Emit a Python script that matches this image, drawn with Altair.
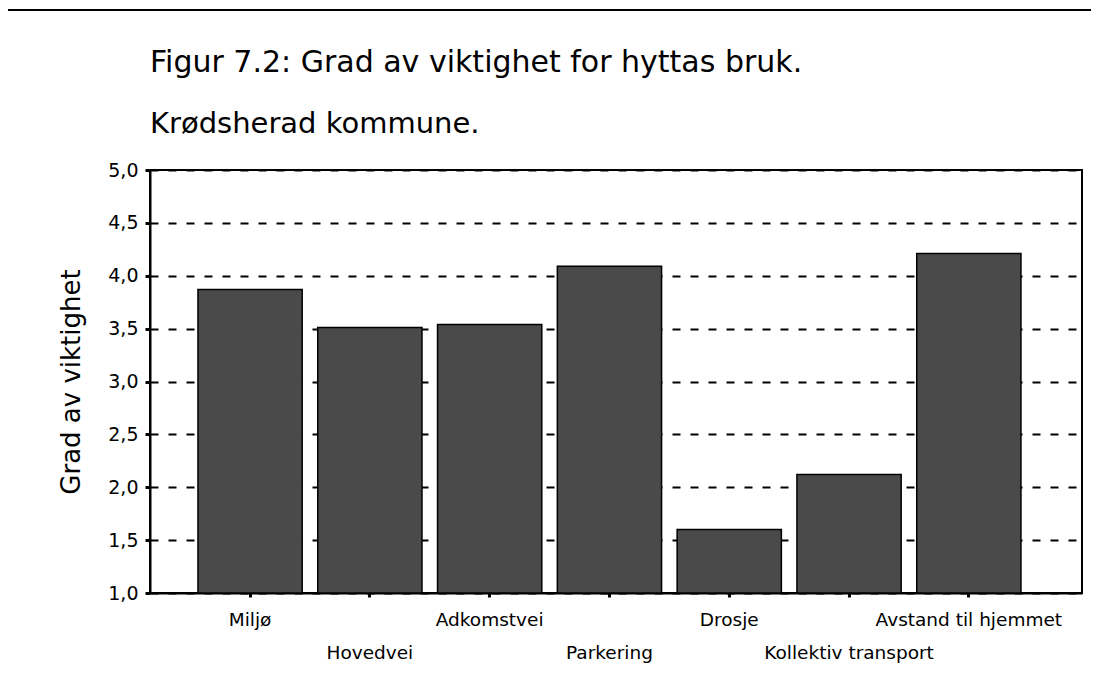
import json
import altair as alt
import pandas as pd

# ---- data ----
categories = ["Miljø", "Hovedvei", "Adkomstvei", "Parkering", "Drosje",
              "Kollektiv transport", "Avstand til hjemmet"]
values = [3.87, 3.51, 3.54, 4.09, 1.60, 2.12, 4.21]
y_ticks = [1.0, 1.5, 2.0, 2.5, 3.0, 3.5, 4.0, 4.5, 5.0]
lower_row = categories[1::2]

title_line1 = "Figur 7.2: Grad av viktighet for hyttas bruk."
title_line2 = "Krødsherad kommune."
y_title = "Grad av viktighet"

df = pd.DataFrame({"kategori": categories, "verdi": values})

W, H = 932, 423
FONT = "DejaVu Sans"

label_expr = ("indexof(" + json.dumps(lower_row, ensure_ascii=False) +
              ", datum.label) >= 0 ? ['', datum.label] : datum.label")

bars = alt.Chart(df).mark_bar(color="#4a4a4a", stroke="black", strokeWidth=1.5).encode(
    x=alt.X("kategori:N", sort=categories,
            scale=alt.Scale(paddingInner=0.13, paddingOuter=0.455, align=0.44),
            axis=alt.Axis(title=None, labelExpr=label_expr, labelAngle=0,
                          labelFont=FONT, labelFontSize=18.5, labelColor="black",
                          labelBaseline="top", labelLineHeight=33, labelPadding=13,
                          labelOverlap=False, labelLimit=400,
                          tickSize=4, tickWidth=3, tickColor="black",
                          domainColor="black", domainWidth=2, grid=False)),
    y=alt.Y("verdi:Q",
            scale=alt.Scale(domain=[1, 5], zero=False, nice=False),
            axis=alt.Axis(values=y_ticks,
                          labelExpr="replace(format(datum.value, '.1f'), '.', ',')",
                          labelFont=FONT, labelFontSize=19, labelColor="black",
                          labelPadding=7,
                          title=y_title, titleFont=FONT, titleFontSize=26,
                          titleFontWeight="normal", titleColor="black",
                          titleX=-79, titleY=H / 2, titleAngle=270,
                          titleBaseline="middle", titleAlign="center",
                          grid=True, gridColor="black", gridDash=[8, 10], gridWidth=2,
                          tickSize=5, tickWidth=3, tickColor="black",
                          domainColor="black", domainWidth=2)),
    y2=alt.datum(1),
)

frame_df = pd.DataFrame({"f": [0]})
frame_left = alt.Chart(frame_df).mark_rule(color="black", strokeWidth=2).encode(
    x=alt.value(-143), y=alt.value(-160), y2=alt.value(H + 70))
frame_top = alt.Chart(frame_df).mark_rule(color="black", strokeWidth=2).encode(
    x=alt.value(-143), x2=alt.value(W + 9), y=alt.value(-160))

chart = alt.layer(bars, frame_left, frame_top).properties(
    width=W, height=H,
    title=alt.Title(text=title_line1, subtitle=title_line2, anchor="start",
                    frame="group", font=FONT, fontSize=30, fontWeight="normal",
                    color="black", subtitleFont=FONT, subtitleFontSize=29,
                    subtitleColor="black", subtitlePadding=32, offset=30, dy=160),
    padding={"left": 142, "top": 162, "right": 9, "bottom": 70},
    autosize="none",
).configure_view(stroke="black", strokeWidth=2)

chart.save("out.html", embed_options={"renderer": "svg", "actions": False})
